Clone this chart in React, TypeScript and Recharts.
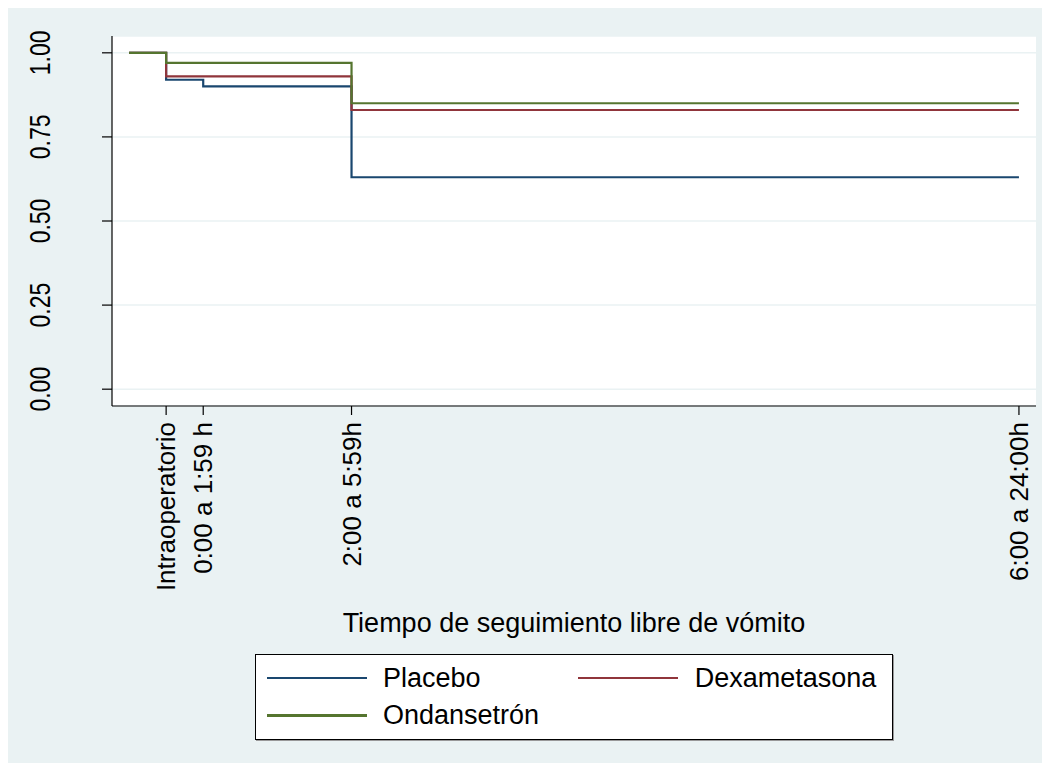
import React from "react";
import { CartesianGrid, Line, LineChart, XAxis, YAxis } from "recharts";

// follow-up time points (hours index) and survival estimates per group
const times = [0, 1, 2, 6, 24];
const placebo = [1, 0.92, 0.9, 0.63, 0.63];
const dexametasona = [1, 0.93, 0.93, 0.83, 0.83];
const ondansetron = [1, 0.97, 0.97, 0.85, 0.85];

const xTicks = [1, 2, 6, 24];
const xTickLabels = ["Intraoperatorio", "0:00 a 1:59 h", "2:00 a 5:59h", "6:00 a 24:00h"];
const yTicks = [0, 0.25, 0.5, 0.75, 1];

const seriesNames = ["Placebo", "Dexametasona", "Ondansetrón"];
const seriesKeys = ["placebo", "dexametasona", "ondansetron"];
const seriesColors = ["#1a476f", "#90353b", "#55752f"];

const data = times.map((t, i) => ({
  t,
  placebo: placebo[i],
  dexametasona: dexametasona[i],
  ondansetron: ondansetron[i],
}));

const FONT = '"Liberation Sans", Arial, Helvetica, sans-serif';
const BG = "#eaf2f3";

function XTick(props: any) {
  const { x, y, payload } = props;
  const idx = xTicks.indexOf(payload.value);
  const label = idx >= 0 ? xTickLabels[idx] : String(payload.value);
  return (
    <text
      x={x + 9}
      y={y}
      transform={`rotate(-90, ${x + 9}, ${y})`}
      textAnchor="end"
      fontSize={26}
      fontFamily={FONT}
      fill="#000"
    >
      {label}
    </text>
  );
}

function YTick(props: any) {
  const { x, y, payload } = props;
  const bx = x - 52;
  // stata renders these a bit wider, so stretch the glyph height a little
  return (
    <text
      x={0}
      y={0}
      transform={`translate(${bx}, ${y}) rotate(-90) scale(1, 1.25)`}
      textAnchor="middle"
      fontSize={23}
      fontFamily={FONT}
      fill="#000"
    >
      {Number(payload.value).toFixed(2)}
    </text>
  );
}

function StataLegend() {
  return (
    <div
      style={{
        position: "absolute",
        left: 247,
        top: 646,
        width: 638,
        height: 86,
        boxSizing: "border-box",
        border: "1.5px solid #000",
        boxShadow: "1px 1px 0 #999",
        background: "#fff",
        padding: "4.4px 0 0 10.5px",
        display: "grid",
        gridTemplateColumns: "311.7px 311.7px",
        gridAutoRows: "37.4px",
        fontFamily: FONT,
        fontSize: 27,
        color: "#000",
      }}
    >
      {seriesNames.map((name, i) => (
        <div key={name} style={{ display: "flex", alignItems: "center" }}>
          <span
            style={{
              display: "inline-block",
              width: 100,
              height: 2.5,
              background: seriesColors[i],
            }}
          />
          <span style={{ marginLeft: 16.5, lineHeight: "30px", whiteSpace: "nowrap" }}>
            {name}
          </span>
        </div>
      ))}
    </div>
  );
}

export default function App() {
  return (
    <div style={{ position: "relative", width: 1035, height: 755, background: BG }}>
      <LineChart
        width={1035}
        height={755}
        data={data}
        margin={{ top: 28, right: 7, left: 0, bottom: 0 }}
      >
        <CartesianGrid
          vertical={false}
          stroke={BG}
          strokeWidth={1.5}
          fill="#fff"
          fillOpacity={1}
        />
        <XAxis
          dataKey="t"
          type="number"
          domain={[-0.46, 24.46]}
          ticks={xTicks}
          interval={0}
          height={357}
          tickSize={9}
          tickMargin={7}
          tick={<XTick />}
          axisLine={{ stroke: "#000", strokeWidth: 1.2 }}
          tickLine={{ stroke: "#000", strokeWidth: 1.2 }}
          label={{
            value: "Tiempo de seguimiento libre de vómito",
            position: "insideTop",
            offset: 207,
            fontSize: 27,
            fontFamily: FONT,
            fill: "#000",
          }}
        />
        <YAxis
          type="number"
          domain={[-0.05, 1.05]}
          ticks={yTicks}
          interval={0}
          width={104}
          tickSize={10}
          tickMargin={0}
          tick={<YTick />}
          axisLine={{ stroke: "#000", strokeWidth: 1.2 }}
          tickLine={{ stroke: "#000", strokeWidth: 1.2 }}
        />
        {seriesKeys.map((key, i) => (
          <Line
            key={key}
            type="stepAfter"
            dataKey={key}
            name={seriesNames[i]}
            stroke={seriesColors[i]}
            strokeWidth={2.2}
            dot={false}
            activeDot={false}
            isAnimationActive={false}
          />
        ))}
      </LineChart>
      <StataLegend />
    </div>
  );
}
